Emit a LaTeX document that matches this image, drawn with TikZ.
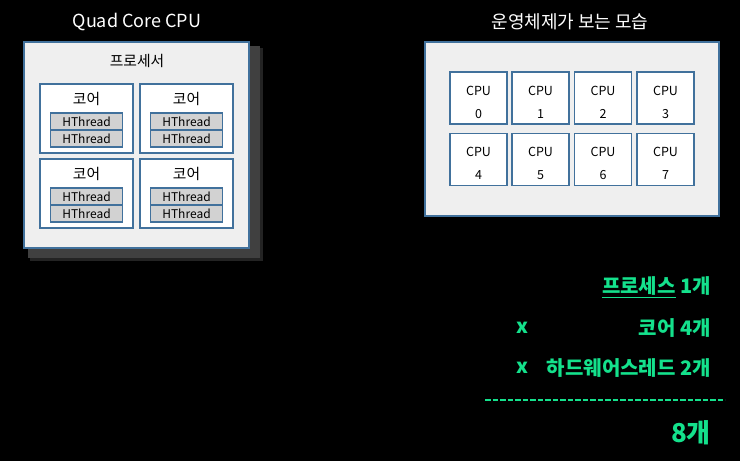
\documentclass[tikz,border=0pt]{standalone}
\usepackage{fontspec}
\setmainfont{Noto Sans CJK KR}
\definecolor{bord}{RGB}{65,113,156}
\definecolor{panel}{RGB}{239,239,239}
\definecolor{hth}{RGB}{210,210,210}
\definecolor{grn}{RGB}{20,225,140}
\definecolor{shd}{RGB}{64,64,64}
\begin{document}
\begin{tikzpicture}[x=1pt,y=-1pt,
  panelbox/.style={draw=bord,line width=1.4pt,fill=panel},
  corebox/.style={draw=bord,line width=1.4pt,fill=white},
  thbox/.style={draw=bord,line width=1.4pt,fill=hth,minimum width=72pt,minimum height=17pt,inner sep=0pt,font=\fontsize{12}{12}\selectfont},
  cpubox/.style={draw=bord,line width=1.4pt,fill=white,minimum width=57pt,minimum height=52pt,inner sep=0pt},
  cputxt/.style={align=center,font=\fontsize{12.5}{23}\selectfont,inner sep=0pt},
  title/.style={text=white,font=\fontsize{18}{18}\selectfont},
  lbl/.style={text=black,font=\fontsize{14.8}{14.8}\selectfont},
  gtext/.style={text=grn,font=\bfseries\fontsize{20}{20}\selectfont,inner sep=0pt}]
\fill[black] (0,0) rectangle (740,461);
\useasboundingbox (0,0) rectangle (740,461);
% left panel
\node[title] (t1) at (137,22) {Quad Core CPU};
\fill[shd!55!black] (30,48) rectangle (263,261);
\fill[shd] (28,46) rectangle (260,258);
\draw[panelbox] (24,42) rectangle (249,248);
\node[lbl] (proc) at (137,61) {프로세서};
\foreach \n/\x/\y in {a/40/84,b/140/84,c/40/159,d/140/159}{
  \draw[corebox] (\x,\y) rectangle ++(93,69);
  \node[lbl] (k\n) at (\x+46.5,\y+15) {코어};
  \node[thbox] (h\n1) at (\x+46.5,\y+37.5) {HThread};
  \node[thbox] (h\n2) at (\x+46.5,\y+54.5) {HThread};
}
% right panel
\node[title] (t2) at (570,22) {운영체제가 보는 모습};
\draw[panelbox] (425,42) rectangle (719,216);
\foreach \i/\x/\y in {0/478.5/98,1/540.5/98,2/603/98,3/665.5/98,4/478.5/159.5,5/540.5/159.5,6/603/159.5,7/665.5/159.5}{
  \node[cpubox] (c\i) at (\x,\y) {};
  \node[cputxt] (ct\i) at ([yshift=-4pt]c\i.center) {CPU\\\i};
}
% calculation
\node[gtext,anchor=east] (l1) at (711,287) {\underline{프로세스} 1개};
\node[gtext] (x1) at (522,328) {x};
\node[gtext,anchor=east] (l2) at (711,328) {코어 4개};
\node[gtext] (x2) at (522,368) {x};
\node[gtext,anchor=east] (l3) at (711,368) {하드웨어스레드 2개};
\coordinate (d1) at (485,400);
\coordinate (d2) at (725,400);
\draw[grn,line width=2.2pt,dash pattern=on 5.5pt off 2pt] (d1) -- (d2);
\node[gtext,anchor=east,font=\bfseries\fontsize{26}{26}\selectfont] (l4) at (711,433) {8개};
\end{tikzpicture}
\end{document}
